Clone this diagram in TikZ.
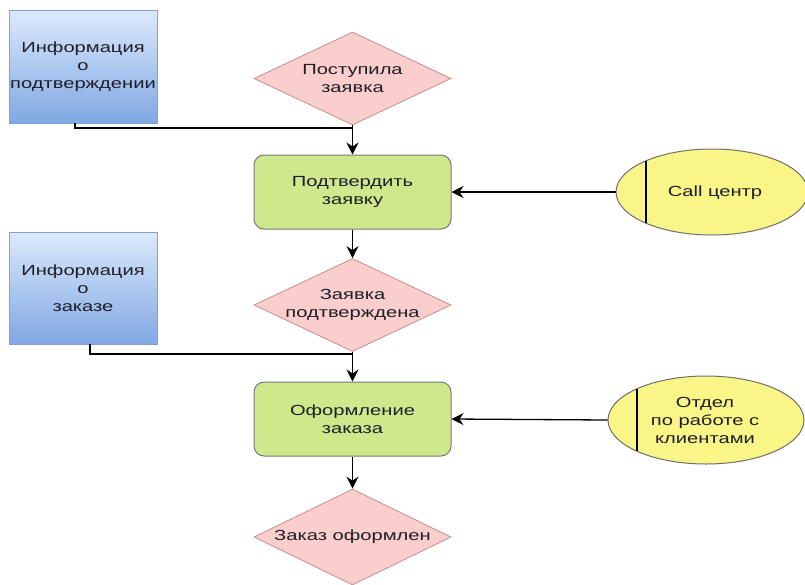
\documentclass[tikz,border=0pt]{standalone}
\usepackage{fontspec}
\setmainfont[FakeStretch=1.37]{Liberation Sans}
\usetikzlibrary{shapes.geometric,arrows.meta}
\definecolor{infotop}{RGB}{220,233,252}
\definecolor{infobot}{RGB}{128,168,226}
\definecolor{infoline}{RGB}{130,160,205}
\definecolor{actfill}{RGB}{205,233,140}
\definecolor{actline}{RGB}{120,120,120}
\definecolor{evfill}{RGB}{249,206,204}
\definecolor{evline}{RGB}{200,140,140}
\definecolor{orgfill}{RGB}{250,245,135}
\definecolor{orgline}{RGB}{110,110,110}
\definecolor{txt}{RGB}{30,30,40}
\begin{document}
\begin{tikzpicture}[x=1pt,y=-1pt,
  every node/.style={font=\fontsize{14.7}{18}\selectfont, text=txt, align=center, inner sep=0pt},
  infobox/.style={draw=infoline, line width=0.8pt, top color=infotop, bottom color=infobot, minimum width=148pt, minimum height=113pt},
  actbox/.style={draw=actline, line width=1pt, fill=actfill, rounded corners=10pt, minimum width=197pt, minimum height=74pt},
  evbox/.style={diamond, aspect=2.12, inner sep=-5pt, draw=evline, line width=0.8pt, fill=evfill, minimum width=197pt, minimum height=93pt},
  orgbox/.style={ellipse, draw=orgline, line width=1pt, fill=orgfill},
  conn/.style={line width=1.3pt, draw=black},
  arr/.style={conn, -{Stealth[length=12pt,width=12pt,inset=4pt]}},
  bar/.style={line width=1.5pt, draw=black}
]
\useasboundingbox (0,0) rectangle (805,584);
% nodes
\node[infobox] (info1) at (83,66.5) {Информация\\о\\подтверждении};
\node[evbox] (ev1) at (352.5,78.5) {Поступила\\заявка};
\node[actbox] (act1) at (352.5,192) {Подтвердить\\заявку};
\node[orgbox, minimum width=192pt, minimum height=86pt] (org1) at (712,192) {};
\node (org1t) at (715,193) {Call центр};
\node[infobox, minimum height=112pt] (info2) at (83,288) {Информация\\о\\заказе};
\node[evbox] (ev2) at (352.5,305) {Заявка\\подтверждена};
\node[actbox] (act2) at (352.5,419) {Оформление\\заказа};
\node[orgbox, minimum width=196pt, minimum height=88pt] (org2) at (706,420) {};
\node (org2t) at (705,420) {Отдел\\по работе с\\клиентами};
\node[evbox, minimum height=96pt] (ev3) at (352.5,537) {Заказ оформлен};
% bars inside ellipses
\draw[bar] (646,161) -- (646,223);
\draw[bar] (637,389) -- (637,451);
% connectors
\coordinate (j1) at (352.5,128);
\coordinate (j2) at (352.5,354);
\draw[conn] (info1.south -| 75,0) |- (j1);
\draw[arr] (ev1.south) -- (act1.north);
\draw[arr] (org1.west) -- (act1.east);
\draw[arr] (act1.south) -- (ev2.north);
\draw[conn] (info2.south -| 90,0) |- (j2);
\draw[arr] (ev2.south) -- (act2.north);
\draw[arr] (org2.west) -- (act2.east);
\draw[arr] (act2.south) -- (ev3.north);
\end{tikzpicture}
\end{document}
